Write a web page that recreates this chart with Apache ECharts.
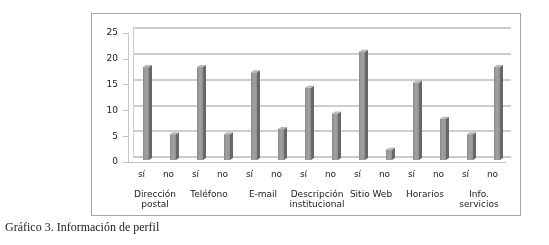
<!DOCTYPE html>
<html>
<head>
<meta charset="utf-8">
<script src="https://cdn.jsdelivr.net/npm/echarts@6/dist/echarts.min.js"></script>
<style>
  body { margin: 0; background: #fff; }
  #wrap { position: relative; width: 549px; height: 245px; }
  #frame { position: absolute; left: 91px; top: 13px; width: 428px; height: 201px; border: 1px solid #a6a6a6; }
  #chart { position: absolute; left: 0; top: 0; width: 549px; height: 245px; }
  #caption { position: absolute; left: 5px; top: 220px; font-family: "Liberation Serif", "DejaVu Serif", serif; font-size: 12px; color: #222; }
</style>
</head>
<body>
<div id="wrap">
  <div id="frame"></div>
  <div id="chart"></div>
  <div id="caption">Gráfico 3. Información de perfil</div>
</div>
<script>
// perfil: respuestas sí / no por elemento
const grupos = ['Dirección\npostal', 'Teléfono', 'E-mail', 'Descripción\ninstitucional', 'Sitio Web', 'Horarios', 'Info.\nservicios']
const respuestas = ['sí', 'no']
const valores = [18, 5, 18, 5, 17, 6, 14, 9, 21, 2, 15, 8, 5, 18]

const subCats = []
grupos.forEach(() => respuestas.forEach(r => subCats.push(r)))

const font = 'DejaVu Sans'
const chart = echarts.init(document.getElementById('chart'))

function renderBar(params, api) {
  const i = api.value(0)
  const top = api.coord([i, api.value(1)])
  const base = api.coord([i, 0])
  const x0 = top[0] + 1.5
  const w = 6, dx = 3, dy = 2
  const yt = top[1] - 2, yb = base[1] - 2
  return {
    type: 'group',
    children: [
      { type: 'rect', shape: { x: x0, y: yt, width: w, height: yb - yt },
        style: { fill: new echarts.graphic.LinearGradient(0, 0, 1, 0, [
          { offset: 0, color: '#8a8a8a' }, { offset: 0.5, color: '#a3a3a3' }, { offset: 1, color: '#8f8f8f' }]) } },
      { type: 'polygon', shape: { points: [[x0 + w, yt], [x0 + w + dx, yt - dy], [x0 + w + dx, yb - dy], [x0 + w, yb]] },
        style: { fill: '#686868' } },
      { type: 'polygon', shape: { points: [[x0, yt], [x0 + dx, yt - dy], [x0 + w + dx, yt - dy], [x0 + w, yt]] },
        style: { fill: '#b8b8b8' } }
    ]
  }
}

chart.setOption({
  animation: false,
  grid: [
    { left: 128, top: 33, width: 378, height: 129 },
    { left: 133, top: 28, width: 378, height: 129 }
  ],
  xAxis: [
    {
      type: 'category', gridIndex: 0, data: subCats,
      axisLine: { lineStyle: { color: '#bfbfbf' } },
      axisTick: { length: 20, lineStyle: { color: '#bfbfbf' } },
      axisLabel: { fontFamily: font, fontSize: 9, color: '#222', margin: 8 }
    },
    {
      type: 'category', gridIndex: 0, data: grupos, position: 'bottom',
      axisLine: { show: false },
      axisTick: { length: 45, lineStyle: { color: '#bfbfbf' } },
      axisLabel: { fontFamily: font, fontSize: 9, color: '#222', margin: 28, lineHeight: 10, interval: 0 }
    },
    {
      type: 'category', gridIndex: 1, data: subCats,
      axisLine: { lineStyle: { color: '#c8c8c8' } },
      axisTick: { show: false }, axisLabel: { show: false }
    }
  ],
  yAxis: [
    {
      type: 'value', gridIndex: 0, min: 0, max: 25, interval: 5,
      axisLine: { show: true, lineStyle: { color: '#c8c8c8' } },
      axisTick: { show: true, length: 5, lineStyle: { color: '#bfbfbf' } },
      splitLine: { show: false },
      axisLabel: { fontFamily: font, fontSize: 9, color: '#222', margin: 10 }
    },
    {
      type: 'value', gridIndex: 1, min: 0, max: 25, interval: 5,
      axisLine: { show: true, lineStyle: { color: '#d0d0d0' } },
      axisTick: { show: false }, axisLabel: { show: false },
      splitLine: { lineStyle: { color: '#bdbdbd', width: 1.5 } }
    }
  ],
  series: [{
    type: 'custom',
    xAxisIndex: 0, yAxisIndex: 0,
    renderItem: renderBar,
    encode: { x: 0, y: 1 },
    data: valores.map((v, i) => [i, v])
  }]
})
</script>
</body>
</html>
